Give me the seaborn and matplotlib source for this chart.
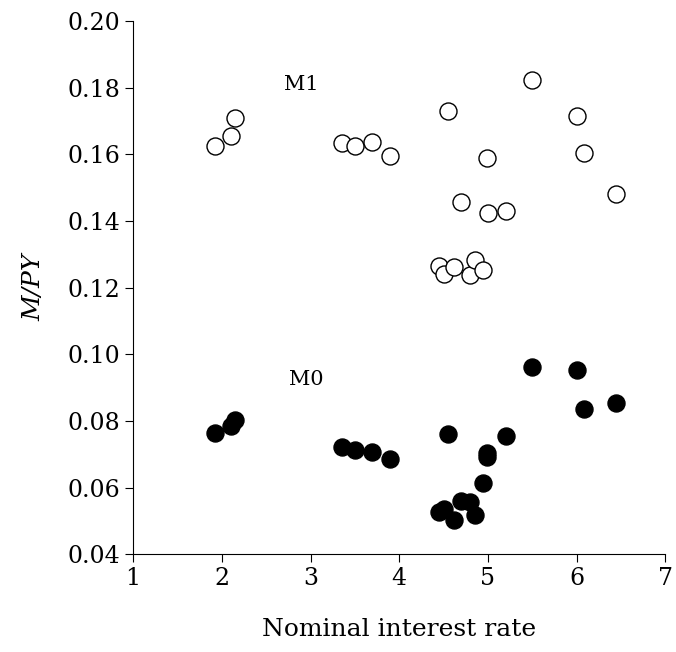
import matplotlib
matplotlib.use("Agg")
import matplotlib.pyplot as plt
import seaborn as sns
import pandas as pd

m1_rate = [1.92, 2.10, 2.15, 3.35, 3.50, 3.69, 3.90, 4.55, 5.50, 6.00, 6.08, 6.45,
           4.99, 4.70, 5.00, 5.20, 4.45, 4.50, 4.62, 4.80, 4.85, 4.95]
m1_ratio = [0.1625, 0.1655, 0.171, 0.1634, 0.1625, 0.1637, 0.1595, 0.173, 0.1823, 0.1715, 0.1604, 0.148,
            0.159, 0.1457, 0.1424, 0.143, 0.1264, 0.124, 0.1262, 0.1237, 0.1283, 0.1253]
m0_rate = [1.92, 2.10, 2.15, 3.35, 3.50, 3.69, 3.90, 4.55, 5.50, 6.00, 6.08, 6.45,
           4.99, 4.99, 5.20, 4.95, 4.70, 4.80, 4.45, 4.50, 4.62, 4.85]
m0_ratio = [0.0763, 0.0784, 0.0802, 0.0721, 0.0712, 0.0706, 0.0685, 0.076, 0.0961, 0.0952, 0.0835, 0.0853,
            0.0703, 0.0691, 0.0754, 0.0613, 0.0559, 0.0556, 0.0526, 0.0535, 0.0502, 0.0517]

sns.set_style("ticks", {"text.color": "black", "axes.labelcolor": "black",
                        "xtick.color": "black", "ytick.color": "black", "axes.edgecolor": "black"})
plt.rcParams['font.family'] = ['DejaVu Serif', 'Liberation Serif']

fig, ax = plt.subplots(figsize=(6.76, 6.52), dpi=100)
sns.scatterplot(x=m1_rate, y=m1_ratio, ax=ax, s=150, facecolor="white", edgecolor="black", linewidth=1)
sns.scatterplot(x=m0_rate, y=m0_ratio, ax=ax, s=150, color="black", edgecolor="black", linewidth=1)

ax.text(2.9, 0.181, "M1", fontsize=15, ha="center", va="center")
ax.text(2.95, 0.0925, "M0", fontsize=15, ha="center", va="center")

ax.set_xlim(1, 7)
ax.set_ylim(0.04, 0.20)
ax.set_xticks(range(1, 8))
ax.set_yticks([0.04 + 0.02 * i for i in range(9)])
ax.set_yticklabels([f"{0.04 + 0.02 * i:.2f}" for i in range(9)])
ax.tick_params(labelsize=17, direction="out", length=6)
ax.set_xlabel("Nominal interest rate", fontsize=18, labelpad=20)
ax.set_ylabel("M/PY", fontsize=18, style="italic", labelpad=16)
sns.despine(ax=ax)
fig.subplots_adjust(left=0.197, right=0.984, top=0.968, bottom=0.15)
fig.savefig("out.png")
